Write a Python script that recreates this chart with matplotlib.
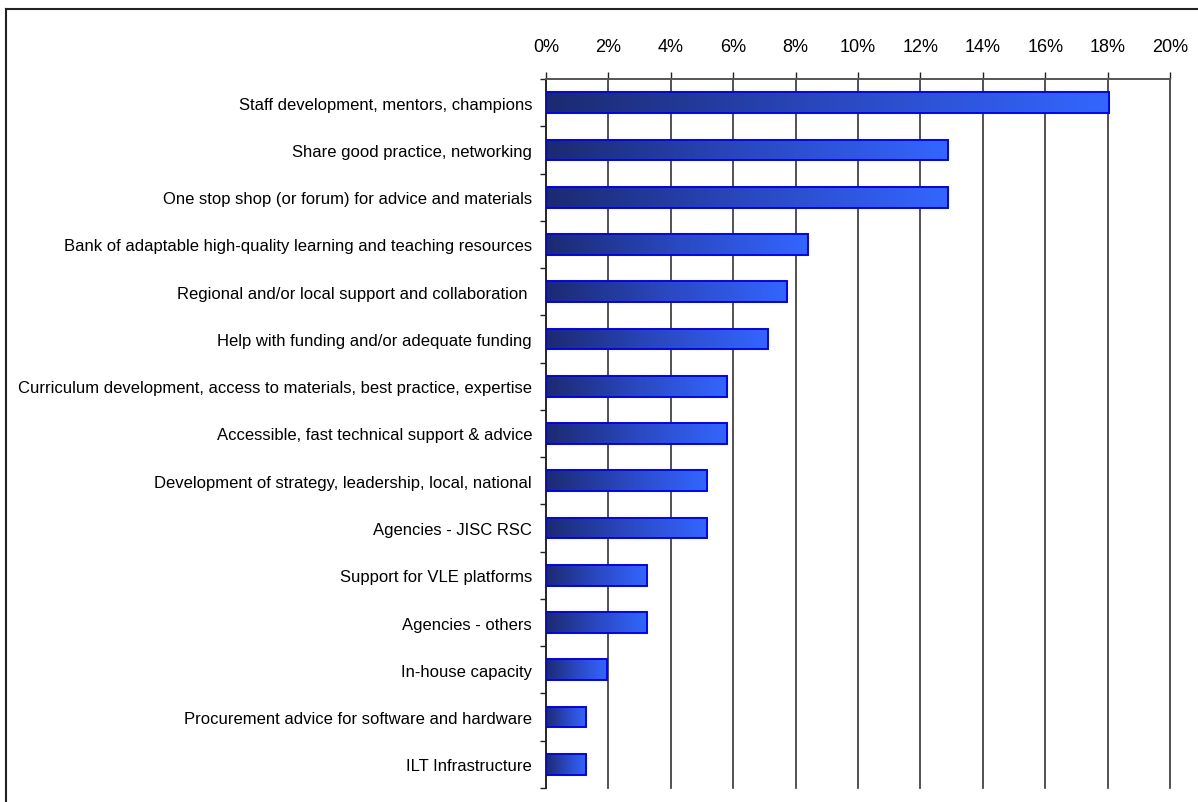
import matplotlib.pyplot as plt
import numpy as np
from matplotlib.colors import LinearSegmentedColormap
from matplotlib.lines import Line2D

# Share of responses per support need (percent)
categories = [
    'Staff development, mentors, champions',
    'Share good practice, networking',
    'One stop shop (or forum) for advice and materials',
    'Bank of adaptable high-quality learning and teaching resources',
    'Regional and/or local support and collaboration ',
    'Help with funding and/or adequate funding',
    'Curriculum development, access to materials, best practice, expertise',
    'Accessible, fast technical support & advice',
    'Development of strategy, leadership, local, national',
    'Agencies - JISC RSC',
    'Support for VLE platforms',
    'Agencies - others',
    'In-house capacity',
    'Procurement advice for software and hardware',
    'ILT Infrastructure',
]
values = [18.06, 12.90, 12.90, 8.39, 7.74, 7.10, 5.81, 5.81, 5.16, 5.16,
          3.23, 3.23, 1.94, 1.29, 1.29]
xticks = [0, 2, 4, 6, 8, 10, 12, 14, 16, 18, 20]

plt.rcParams['font.family'] = ['Liberation Sans', 'DejaVu Sans']

fig = plt.figure(figsize=(11.98, 8.03), dpi=100)
ax = fig.add_axes([546 / 1198, 14 / 803, 624 / 1198, 709 / 803])

y = np.arange(len(categories))
bars = ax.barh(y, values, height=0.44, facecolor='none',
               edgecolor='#0000ff', linewidth=1.4, zorder=3)

# left-to-right gradient inside each bar
cmap = LinearSegmentedColormap.from_list('bluegrad', ['#1b2a70', '#2a48c0', '#3366ff'])
grad = np.linspace(0, 1, 256).reshape(1, -1)
for b in bars:
    x0, y0 = b.get_x(), b.get_y()
    w, h = b.get_width(), b.get_height()
    im = ax.imshow(grad, cmap=cmap, aspect='auto', extent=[x0, x0 + w, y0 + h, y0],
                   zorder=2, interpolation='bilinear')
    im.set_clip_path(b)

ax.set_xlim(0, 20)
ax.set_ylim(len(categories) - 0.5, -0.5)

ax.xaxis.tick_top()
ax.set_xticks(xticks)
ax.set_xticklabels([f'{t}%' for t in xticks], fontsize=13)
ax.tick_params(axis='x', direction='out', length=5, width=1, color='#222222', pad=12)
ax.grid(axis='x', color='#333333', linewidth=1.2, zorder=1)
for gl in ax.get_xgridlines():
    gl.set_clip_on(False)

# category labels centred, tick marks on the band boundaries
ax.set_yticks(y)
ax.set_yticklabels(categories, fontsize=12)
ax.tick_params(axis='y', which='major', length=0, pad=10)
ax.set_yticks(np.arange(len(categories) + 1) - 0.5, minor=True)
ax.tick_params(axis='y', which='minor', direction='out', length=4.5, width=1, color='#222222')

for side in ['right', 'bottom']:
    ax.spines[side].set_visible(False)
ax.spines['top'].set_color('#555555')
ax.spines['top'].set_linewidth(1.4)
ax.spines['left'].set_color('#222222')
ax.spines['left'].set_linewidth(1.2)
ax.set_axisbelow(True)

# outer frame
fig.add_artist(Line2D([6 / 1198, 1], [1 - 10 / 803, 1 - 10 / 803],
                      transform=fig.transFigure, color='#222222', linewidth=1.5))
fig.add_artist(Line2D([6 / 1198, 6 / 1198], [0, 1 - 10 / 803],
                      transform=fig.transFigure, color='#222222', linewidth=1.5))

fig.savefig('out.png', dpi=100)
